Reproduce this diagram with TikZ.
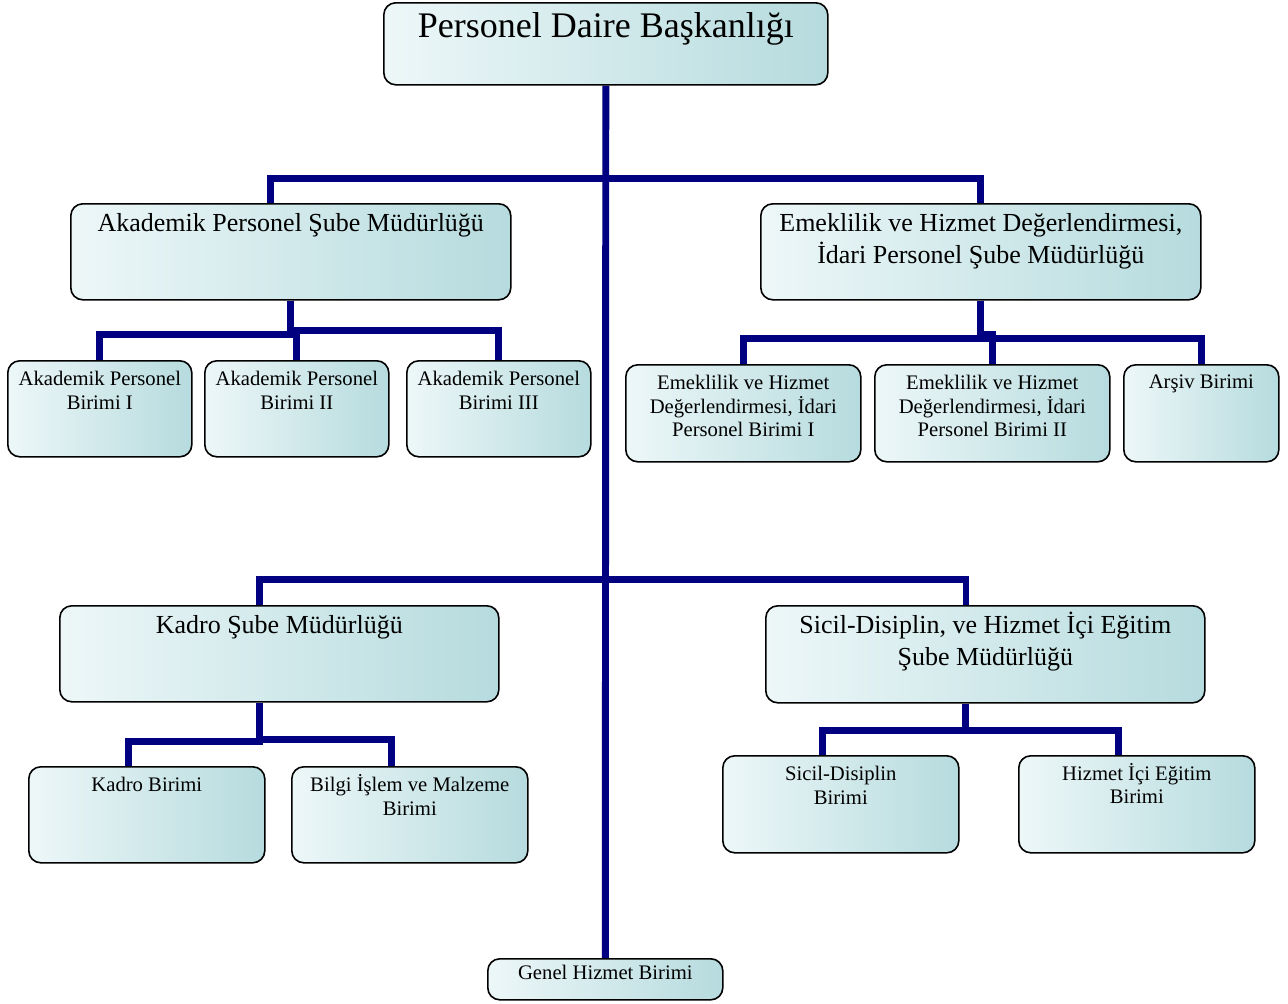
\documentclass[tikz,border=0pt]{standalone}
\usepackage{fontspec}
\setmainfont{Liberation Serif}
\usepackage{xcolor}
\usetikzlibrary{backgrounds,calc}
\definecolor{boxlight}{HTML}{EDF7F8}
\definecolor{boxdark}{HTML}{B6DBDE}
\definecolor{linknavy}{HTML}{000080}
\tikzset{
	unit/.style={draw=black, line width=1.2pt, rounded corners=9pt, anchor=north west,
		left color=boxlight, right color=boxdark, inner sep=0pt},
	txt/.style={anchor=north, align=center, inner sep=0pt, yshift=-8pt},
	link/.style={draw=linknavy, line width=5.2pt},
	titlefont/.style={font=\fontsize{27}{32}\selectfont},
	bigfont/.style={font=\fontsize{19.5}{23.3}\selectfont},
	smallfont/.style={font=\fontsize{15.5}{17.8}\selectfont}
}
\begin{document}
\begin{tikzpicture}[x=0.75pt, y=-0.75pt]
	\useasboundingbox (0,0) rectangle (1288,1003);

	%% -- Head office
	\node[unit, minimum width=333pt, minimum height=61.5pt,
	label={[txt, titlefont]north:Personel Daire Başkanlığı}] (pdb) at (383,2) {};

	%% -- Upper branch offices
	\node[unit, minimum width=330pt, minimum height=72pt,
	label={[txt, bigfont]north:Akademik Personel Şube Müdürlüğü}] (aps) at (70,203) {};
	\node[unit, minimum width=330pt, minimum height=72pt,
	label={[txt, bigfont]north:Emeklilik ve Hizmet Değerlendirmesi,\\İdari Personel Şube Müdürlüğü}] (ehd) at (760,203) {};

	%% -- Academic units
	\node[unit, minimum width=138pt, minimum height=72pt,
	label={[txt, smallfont]north:Akademik Personel\\Birimi I}] (ap1) at (7,360) {};
	\node[unit, minimum width=138pt, minimum height=72pt,
	label={[txt, smallfont]north:Akademik Personel\\Birimi II}] (ap2) at (204,360) {};
	\node[unit, minimum width=138pt, minimum height=72pt,
	label={[txt, smallfont]north:Akademik Personel\\Birimi III}] (ap3) at (406,360) {};

	%% -- Retirement / administrative units
	\node[unit, minimum width=176.25pt, minimum height=72.75pt,
	label={[txt, smallfont]north:Emeklilik ve Hizmet\\Değerlendirmesi, İdari\\Personel Birimi I}] (eh1) at (625,364) {};
	\node[unit, minimum width=176.25pt, minimum height=72.75pt,
	label={[txt, smallfont]north:Emeklilik ve Hizmet\\Değerlendirmesi, İdari\\Personel Birimi II}] (eh2) at (874,364) {};
	\node[unit, minimum width=116.25pt, minimum height=72.75pt,
	label={[txt, smallfont]north:Arşiv Birimi}] (arv) at (1123,364) {};

	%% -- Lower branch offices
	\node[unit, minimum width=329.25pt, minimum height=72pt,
	label={[txt, bigfont]north:Kadro Şube Müdürlüğü}] (kds) at (59,605) {};
	\node[unit, minimum width=329.25pt, minimum height=72.75pt,
	label={[txt, bigfont]north:Sicil-Disiplin, ve Hizmet \smash{İ}çi Eğitim\\Şube Müdürlüğü}] (sds) at (765,605) {};

	%% -- Staff units
	\node[unit, minimum width=177pt, minimum height=72pt,
	label={[txt, smallfont]north:Kadro Birimi}] (kdb) at (28,766) {};
	\node[unit, minimum width=177pt, minimum height=72pt,
	label={[txt, smallfont]north:Bilgi \smash{İ}şlem ve Malzeme\\Birimi}] (bim) at (291,766) {};

	%% -- Registry / training units
	\node[unit, minimum width=177pt, minimum height=72.75pt,
	label={[txt, smallfont]north:Sicil-Disiplin\\Birimi}] (sdb) at (722,755) {};
	\node[unit, minimum width=177pt, minimum height=72.75pt,
	label={[txt, smallfont]north:Hizmet \smash{İ}çi Eğitim\\Birimi}] (hie) at (1018,755) {};

	%% -- General services
	\node[unit, minimum width=176.25pt, minimum height=30.75pt,
	label={[txt, smallfont, yshift=3pt]north:Genel Hizmet Birimi}] (ghb) at (487,958) {};

	%% -- Connectors (behind the boxes)
	\begin{scope}[on background layer]
		\coordinate (bus1) at ($(pdb.south)+(0,93)$);
		\coordinate (bus2) at ($(pdb.south)+(0,494)$);
		\draw[link] (pdb.south) -- (ghb.north);
		\draw[link] (bus1) -| ([xshift=-15pt]aps.north);
		\draw[link] (bus1) -| (ehd.north);
		\draw[link] (bus2) -| ([xshift=-15pt]kds.north);
		\draw[link] (bus2) -| ([xshift=-14.5pt]sds.north);

		\draw[link] (aps.south) -- ++(0,34) -| (ap1.north);
		\draw[link] (aps.south) -- ++(0,34) -| (ap2.north);
		\draw[link] (aps.south) -- ++(0,30) -| (ap3.north);

		\draw[link] (ehd.south) -- ++(0,38) -| (eh1.north);
		\draw[link] (ehd.south) -- ++(0,34) -| (eh2.north);
		\draw[link] (ehd.south) -- ++(0,38) -| (arv.north);

		\draw[link] ([xshift=-15pt]kds.south) -- ++(0,39) -| ([xshift=-14pt]kdb.north);
		\draw[link] ([xshift=-15pt]kds.south) -- ++(0,37) -| ([xshift=-14pt]bim.north);

		\draw[link] ([xshift=-15pt]sds.south) -- ++(0,27) -| ([xshift=-13.5pt]sdb.north);
		\draw[link] ([xshift=-15pt]sds.south) -- ++(0,27) -| ([xshift=-14pt]hie.north);
	\end{scope}
\end{tikzpicture}
\end{document}
